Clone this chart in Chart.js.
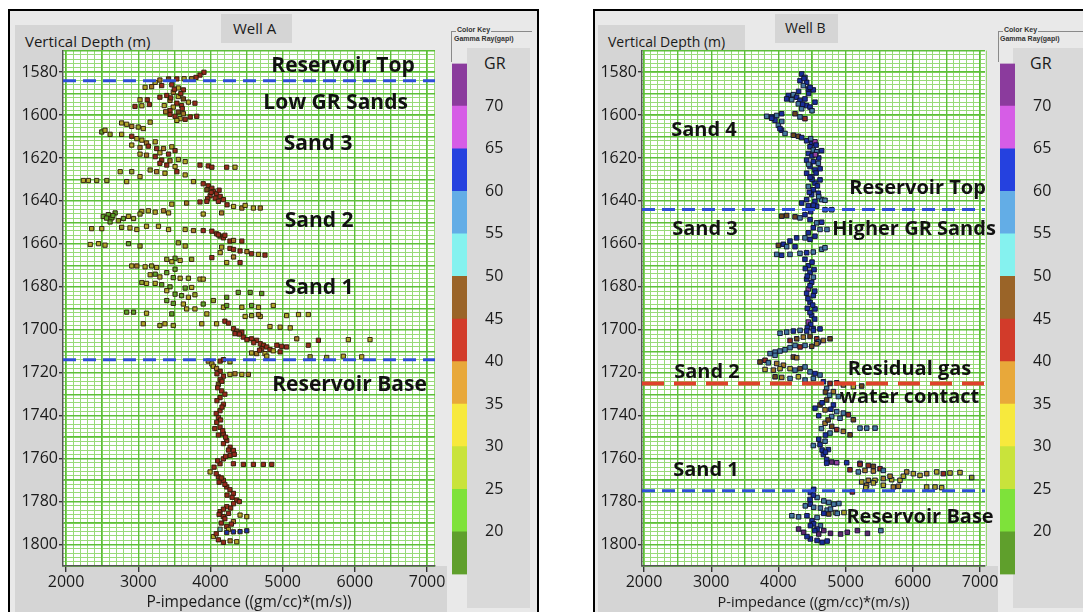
<!DOCTYPE html>
<html>
<head>
<meta charset="utf-8">
<script src="https://cdn.jsdelivr.net/npm/chart.js@4.4.0/dist/chart.umd.min.js"></script>
<style>
  body { margin: 0; width: 1083px; height: 612px; background: #fff; position: relative; overflow: hidden; font-family: 'Open Sans', sans-serif; color: #1a1a1a; }
  .abs { position: absolute; }
  .frame { border: 2px solid #000; border-bottom: none; background: #e9e9e9; box-sizing: border-box; }
  .gray { background: #d5d5d5; }
  .txt { white-space: nowrap; }
  .keybox { border-top: 1px solid #8a8a8a; border-left: 1px solid #8a8a8a; }
  .keytitle { font: bold 7px 'Liberation Sans', sans-serif; color: #333; background: #e9e9e9; padding: 0 1px; }
</style>
</head>
<body>
  <!-- Well A panel -->
  <div class="abs frame" style="left:8px;top:9px;width:531px;height:610px;"></div>
  <div class="abs gray" style="left:15px;top:25px;width:158px;height:30px;"></div>
  <div class="abs gray" style="left:15px;top:46px;width:48px;height:566px;"></div>
  <div class="abs gray" style="left:15px;top:566px;width:432px;height:46px;"></div>
  <div class="abs gray" style="left:221px;top:14px;width:71px;height:29px;"></div>
  <div class="abs" style="left:467px;top:48px;width:63px;height:560px;background:#d9d9d9;"></div>
  <div class="abs txt" style="left:25px;top:31px;font-size:15px;">Vertical Depth (m)</div>
  <div class="abs txt" style="left:233px;top:18px;font-size:15px;">Well A</div>
  <div class="abs keybox" style="left:451px;top:31px;width:80px;height:30px;"></div>
  <div class="abs txt keytitle" style="left:456px;top:26px;">Color Key</div>
  <div class="abs txt keytitle" style="left:453px;top:35px;">Gamma Ray(gapi)</div>
  <div class="abs txt" style="left:484px;top:52px;font-size:16px;">GR</div>

  <!-- Well B panel -->
  <div class="abs frame" style="left:593px;top:9px;width:520px;height:610px;"></div>
  <div class="abs gray" style="left:598px;top:25px;width:147px;height:30px;"></div>
  <div class="abs gray" style="left:598px;top:46px;width:44px;height:566px;"></div>
  <div class="abs gray" style="left:598px;top:566px;width:400px;height:46px;"></div>
  <div class="abs gray" style="left:775px;top:14px;width:63px;height:29px;"></div>
  <div class="abs" style="left:1013px;top:48px;width:70px;height:560px;background:#d9d9d9;"></div>
  <div class="abs txt" style="left:608px;top:32px;font-size:14px;">Vertical Depth (m)</div>
  <div class="abs txt" style="left:785px;top:18px;font-size:14px;">Well B</div>
  <div class="abs keybox" style="left:998px;top:31px;width:90px;height:30px;"></div>
  <div class="abs txt keytitle" style="left:1003px;top:26px;">Color Key</div>
  <div class="abs txt keytitle" style="left:999px;top:35px;">Gamma Ray(gapi)</div>
  <div class="abs txt" style="left:1030px;top:52px;font-size:16px;">GR</div>

  <div class="abs" style="left:15px;top:40px;width:440px;height:572px;"><canvas id="wellA" width="440" height="572"></canvas></div>
  <div class="abs" style="left:594px;top:40px;width:411px;height:572px;"><canvas id="wellB" width="411" height="572"></canvas></div>
  <div class="abs" style="left:452px;top:44px;width:60px;height:550px;"><canvas id="keyA" width="60" height="550"></canvas></div>
  <div class="abs" style="left:1000px;top:44px;width:60px;height:550px;"><canvas id="keyB" width="60" height="550"></canvas></div>

<script>
// Gamma ray colour key (gapi): lower edge of each band and its colour
const grEdges = [15, 20, 25, 30, 35, 40, 45, 50, 55, 60, 65, 70];
const grColors = ['#5f9f2c', '#7ee23a', '#c9e33b', '#f7e93d', '#e8a83a', '#d23b2a',
                  '#9a6428', '#85f2ef', '#63ade6', '#2541df', '#d65de6', '#8b3b9d'];
const grLabels = [20, 25, 30, 35, 40, 45, 50, 55, 60, 65, 70];

// Axis labels
const impLabels = [2000, 3000, 4000, 5000, 6000, 7000];
const depthLabels = [1580, 1600, 1620, 1640, 1660, 1680, 1700, 1720, 1740, 1760, 1780, 1800];

// Horizons (depth, m)
const wellAHorizons = [1584, 1714];
const wellBHorizons = [1644, 1775];
const wellBContact = [1725];

// Well A samples: [P-impedance, depth, GR]
const aTop = [
  [3910,1580.1,43],[3855,1581.4,42],[3800,1582.5,44],[3300,1583.7,36],[3420,1583.2,45],[3535,1583.2,42],
  [3635,1583.1,32],[3740,1583.1,38],[3235,1584.8,33],[3095,1587.1,32],[3185,1586.8,36],[3325,1586.3,43],
  [3465,1585.9,41],[3555,1587.4,34],[3625,1588.3,44],[3485,1589.4,37],[3395,1590.9,42],[3555,1591.4,33],
  [3625,1592.5,46],[3440,1593.2,35],[3535,1594.5,42],[3600,1595.6,44],[3485,1596.3,33],[3440,1597.9,43],
  [3555,1598.6,45],[3625,1599.4,36],[3510,1600.6,42],[3580,1601.7,34],[3720,1600.9,43],[3810,1600.6,44],
  [3785,1594.5,41],[3695,1594.0,33],[3025,1592.9,30],[3125,1592.9,42],[2955,1596.0,43],[3050,1595.7,32],
  [3155,1595.1,44],[3535,1602.5,33],[3440,1599.7,41],[3360,1595.6,34],[3300,1591.7,42],[3500,1588,43],
  [3590,1590,41],[3450,1592,44],[3610,1597,42],[3380,1598.5,35],[3650,1602,43]
];
const aSand3 = [
  [2770,1603.7,33],[2840,1604.3,30],[2910,1605.3,36],[3000,1605.6,28],[3070,1606.3,33],[3165,1603.3,32],
  [2495,1607.9,22],[2540,1607.1,30],[2610,1609.0,27],[2770,1609.0,33],[2910,1609.9,42],[2980,1611.0,34],
  [3050,1611.7,30],[3115,1613.0,36],[3235,1612.5,33],[2910,1614.0,31],[3025,1615.1,37],[3140,1614.5,43],
  [3255,1615.6,42],[3350,1615.6,36],[3465,1614.8,32],[3510,1616.6,44],[3300,1617.6,33],[3420,1618.2,43],
  [3025,1618.2,30],[3115,1618.7,35],[3235,1619.4,42],[3325,1621.0,44],[3440,1621.3,36],[3555,1620.7,33],
  [3300,1622.5,43],[3395,1623.3,42],[3510,1624.0,33],[3650,1621.7,31],[3165,1625.6,28],[3255,1626.4,35],
  [3370,1627.1,33],[3535,1626.4,42],[3650,1627.9,34],[3765,1631.0,32],[2910,1626.4,27],[2750,1626.4,30],
  [2565,1630.5,29],[2425,1630.5,28],[2310,1630.5,30],[2240,1630.5,31],[2840,1631.0,33],[3025,1628.7,32],
  [3855,1623.3,44],[3970,1623.7,43],[4020,1624.3,41],[4225,1624.3,42],[4340,1624.3,34]
];
const aSand2 = [
  [3900,1632.0,43],[3970,1633.0,44],[4020,1634.1,42],[3950,1634.8,45],[4040,1635.6,43],[4085,1636.7,42],
  [3995,1637.6,44],[4135,1637.9,41],[4065,1638.7,43],[4180,1639.4,42],[4110,1640.2,44],[4010,1636,43],
  [3960,1639,42],[4120,1635,44],[3465,1641.5,33],[3670,1641.0,36],[3855,1640.5,44],[3950,1640.2,42],
  [4230,1641.8,43],[4320,1642.6,32],[4435,1643.3,38],[4480,1642.1,34],[4595,1643.3,33],[4690,1643.3,36],
  [3900,1646.1,33],[4155,1645.6,35],[2515,1647.2,21],[2585,1646.4,22],[2635,1647.9,20],[2680,1645.6,24],
  [2610,1649.8,21],[2725,1649.2,26],[2795,1648.2,23],[2865,1647.2,30],[2935,1648.2,28],[3050,1644.9,33],
  [3140,1644.6,30],[3235,1645.2,32],[3350,1644.6,35],[3420,1645.6,31],[3025,1646.1,29],[2560,1648,22],
  [2650,1646.8,21],[2355,1652.9,30],[2495,1652.9,31],[2770,1652.3,28],[2885,1652.6,32],[2980,1653.3,30],
  [3115,1651.8,33],[3280,1651.8,30],[3420,1653.3,34],[3650,1653.3,31],[3765,1653.8,36],[3900,1653.8,43],
  [4020,1654.1,44],[4085,1655.3,42],[4135,1656.4,45],[4180,1657.2,43],[4270,1658.7,42],[4320,1658.4,36],
  [4435,1658.7,44],[4110,1655.8,43],[4200,1656,44],[2335,1660.3,33],[2450,1659.9,30],[2540,1660.6,31],
  [2865,1659.9,24],[3025,1661.0,29],[3555,1659.5,27],[3650,1661.0,30],[4155,1661.5,33],[4270,1662.1,44],
  [4320,1662.6,43],[4410,1663.3,42],[4505,1663.6,36],[4570,1664.6,42],[4665,1664.9,34],[4755,1665.2,44],
  [4135,1664.1,33],[4020,1666.4,43],[4225,1668.7,32],[4410,1668.7,42],[4320,1666.1,35]
];
const aSand1 = [
  [3395,1667.2,26],[3510,1666.7,22],[3465,1668.3,32],[3580,1667.7,30],[3740,1667.2,28],[2910,1670.3,33],
  [2980,1670.3,36],[3095,1670.7,33],[3185,1670.3,27],[3255,1671.0,30],[3165,1674.4,32],[3235,1674.1,23],
  [3300,1675.4,30],[3395,1673.4,22],[3510,1671.8,21],[3485,1675.7,22],[3580,1676.0,30],[3695,1676.0,29],
  [3855,1676.4,33],[3900,1676.4,34],[3050,1678.0,27],[3115,1678.4,33],[3235,1678.4,31],[3325,1679.0,24],
  [3440,1680.0,22],[3650,1680.6,24],[3740,1680.3,32],[3395,1681.8,30],[3510,1683.4,23],[3600,1684.1,22],
  [3695,1684.9,30],[3785,1683.7,27],[3395,1686.4,24],[3485,1687.7,22],[3625,1688.0,30],[3900,1688.0,23],
  [4040,1686.4,28],[4225,1684.9,24],[4385,1682.6,23],[4550,1682.6,22],[4710,1683.1,21],[3670,1690.3,33],
  [3785,1690.3,31],[2840,1691.8,22],[2935,1691.8,24],[3115,1692.3,30],[3465,1692.6,23],[3950,1692.6,30],
  [3070,1697.2,31],[3300,1698.0,28],[3370,1697.2,32],[3485,1698.0,27],[3880,1697.2,34],[4085,1697.2,31],
  [4180,1689.5,32],[4225,1688.7,22],[4435,1689.5,30],[4570,1688.7,23],[4665,1689.5,31],[4870,1688.7,33],
  [4480,1693.8,30],[4570,1693.4,29],[4690,1693.8,34],[4665,1692.9,36],[5055,1693.4,30],[5220,1692.9,34],
  [5355,1692.9,32],[4825,1698.5,31],[4965,1698.8,33],[5105,1699.1,30]
];
const aBase = [
  [4200,1696.0,44],[4250,1696.9,43],[4320,1699.5,42],[4365,1700.6,45],[4340,1701.8,43],[4435,1701.1,42],
  [4455,1703.4,44],[4505,1704.6,41],[4570,1704.2,43],[4640,1704.9,42],[4690,1706.5,44],[4735,1707.2,43],
  [4780,1708.0,41],[4710,1708.8,42],[4825,1709.2,44],[4870,1709.8,34],[4570,1710.8,33],[4640,1711.1,36],
  [4755,1711.1,32],[4920,1707.2,43],[4985,1707.7,42],[5055,1708.0,44],[5195,1704.2,36],[5355,1707.2,42],
  [5495,1704.9,43],[5910,1704.6,33],[6210,1704.6,34],[5380,1712.6,28],[5610,1712.9,27],[5840,1712.3,31],
  [6095,1712.6,30],[4780,1712.3,33],[4965,1710.3,42],[4400,1702,43],[4600,1706,42],[4680,1709.5,43]
];
const aBelow = [
  [3970,1714.6,36],[4020,1715.9,33],[4040,1717.0,34],[4085,1718.0,37],[4135,1714.6,42],[4180,1713.9,43],
  [4270,1714.9,33],[4270,1720.8,34],[4340,1720.5,36],[4435,1720.8,33],[4525,1720.8,35],[4135,1719.3,43],
  [4180,1721.6,44],[4135,1723.1,42],[4110,1725.4,45],[4155,1728.5,43],[4133,1731.6,42],[4180,1734.7,44],
  [4133,1737.7,43],[4110,1740.8,42],[4087,1743.1,44],[4133,1745.4,43],[4179,1748.5,42],[4226,1751.6,44],
  [4272,1754.7,43],[4318,1756.2,42],[4272,1758.5,44],[4179,1760.1,43],[4133,1762.4,42],[3995,1766.2,33],
  [4110,1768.5,44],[4179,1770.1,43],[4226,1773.2,42],[4318,1776.2,44],[4364,1779.3,43],[4226,1782.4,42],
  [4133,1784.7,44],[4179,1787.0,43],[4318,1789.3,36],[4226,1791.6,42],[4041,1796.3,33],[4110,1797.8,43],
  [4272,1798.3,36],[4364,1798.7,34],[4090,1720.5,42],[4160,1724,43],[4100,1727,44],[4200,1730,42],
  [4090,1733,43],[4160,1736,42],[4080,1739,44],[4140,1742,43],[4060,1746,42],[4170,1747,44],
  [4110,1749,43],[4210,1750,42],[4180,1753,43],[4250,1756,44],[4330,1758,42],[4210,1759,43],
  [4100,1761,44],[4050,1764,42],[4080,1767,43],[4150,1769,44],[4120,1771,42],[4200,1772,43],
  [4270,1774.5,42],[4230,1777,44],[4300,1778,43],[4400,1780,42],[4320,1781,44],[4280,1783,43],
  [4180,1783.5,42],[4250,1785.5,43],[4120,1786,44],[4200,1788,42],[4290,1790.5,43],[4150,1790,44],
  [4250,1793,33],[4080,1795,42],[4180,1799,43],[4318,1762.4,43],[4456,1762.7,42],[4595,1762.7,44],
  [4733,1762.7,43],[4849,1762.7,42],[4410,1786.3,34],[4503,1787.0,33],[4226,1794.4,62],[4318,1794.1,63],
  [4410,1794.0,62],[4503,1793.6,64],[4133,1792.9,53]
];

// Well B samples: [P-impedance, depth, GR]
const bSand4 = [
  [4346,1580.9,62],[4395,1582.5,57],[4321,1584.0,63],[4420,1584.8,61],[4371,1586.3,58],[4445,1587.9,63],
  [4519,1588.3,62],[4470,1587.1,64],[4147,1590.9,62],[4222,1590.5,57],[4271,1591.7,63],[4197,1592.9,58],
  [4321,1593.2,62],[4395,1592.5,63],[4296,1594.8,56],[4420,1595.6,62],[4346,1597.1,58],[4470,1596.3,63],
  [4544,1594.0,62],[4247,1599.4,47],[4395,1601.7,43],[4321,1600.9,57],[4123,1592.5,61],[4380,1583,62],
  [4300,1589,61],[4450,1590,62],[4360,1595,63],[4500,1598,57],[3825,1600.6,57],[3899,1600.9,61],
  [3974,1600.2,56],[4048,1599.4,62],[3949,1602.5,60],[3999,1604.8,58],[4048,1607.1,62],[4098,1608.6,57],
  [4023,1606.3,63],[3900,1601.5,62],[4050,1603,57]
];
const bUpper = [
  [4222,1609.4,47],[4296,1609.9,45],[4346,1610.5,62],[4420,1612.0,63],[4495,1613.3,62],[4544,1612.5,66],
  [4470,1614.8,63],[4519,1616.3,57],[4445,1617.9,62],[4569,1617.1,58],[4643,1616.6,63],[4420,1621.0,62],
  [4519,1621.7,63],[4594,1622.5,57],[4470,1624.0,62],[4544,1625.6,63],[4420,1627.1,62],[4495,1628.7,58],
  [4619,1630.2,63],[4544,1631.7,62],[4445,1633.3,57],[4519,1634.8,62],[4594,1636.4,63],[4495,1637.1,62],
  [4420,1639.4,61],[4544,1640.2,62],[4643,1639.4,57],[4693,1639.7,56],[4346,1641.0,62],[4445,1642.2,63],
  [4569,1642.5,62],[4693,1644.1,57],[4792,1644.1,56],[4480,1611,57],[4560,1614,62],[4500,1619,63],
  [4600,1620,62],[4450,1623,58],[4560,1627,62],[4500,1630,63],[4580,1633,62],[4460,1636,63],
  [4600,1638,57],[4520,1642,62],[4480,1645,63],[4550,1618.5,67],[4620,1625,62],[4470,1629,62]
];
const bSand3 = [
  [4048,1647.1,46],[4123,1646.8,45],[4247,1647.4,47],[4321,1647.9,56],[4395,1646.4,62],[4470,1648.7,62],
  [4569,1650.2,57],[4643,1649.9,63],[4519,1652.5,62],[4619,1653.3,57],[4445,1654.8,62],[4544,1656.4,63],
  [4470,1657.9,62],[4395,1657.2,58],[4271,1657.2,62],[4172,1658.7,63],[4073,1660.2,62],[3999,1660.7,47],
  [4123,1661.3,57],[4247,1661.3,62],[3974,1664.9,57],[4048,1665.3,62],[4172,1664.9,57],[4321,1664.4,58],
  [4420,1664.1,62],[4519,1663.8,57],[4643,1662.5,56],[4693,1661.8,57],[4723,1653.3,57],[4395,1667.2,62],
  [4445,1670.2,63],[4470,1673.3,62],[4420,1676.4,63],[4495,1677.9,62],[4445,1681.0,66],[4519,1684.1,62],
  [4470,1687.2,63],[4544,1690.3,62],[4495,1693.3,63],[4445,1696.4,68],[4519,1699.5,62],[4500,1668.5,62],
  [4400,1671.5,63],[4530,1672,62],[4430,1675,62],[4520,1675.5,58],[4470,1679.5,63],[4420,1683,62],
  [4540,1682,63],[4440,1685.5,62],[4510,1688.5,63],[4430,1690,62],[4470,1692,63],[4540,1695,62],
  [4480,1697.5,63],[4430,1699,62]
];
const bSand2 = [
  [4024,1701.6,58],[4123,1701.1,57],[4222,1700.6,62],[4322,1700.3,57],[4421,1700.6,63],[4520,1700.3,62],
  [4619,1699.6,62],[4173,1705.0,44],[4272,1704.2,47],[4371,1703.4,38],[4470,1703.1,45],[4570,1704.2,42],
  [4669,1705.0,38],[4768,1704.2,46],[4594,1705.7,57],[3875,1711.1,57],[3950,1710.4,56],[4024,1709.9,57],
  [4098,1709.3,58],[4173,1708.3,56],[4247,1707.3,57],[4322,1708.0,44],[4396,1707.3,57],[4495,1707.7,46],
  [4570,1706.5,38],[4222,1712.7,45],[4272,1713.0,36],[3950,1711.9,56],[3801,1714.2,44],[3726,1715.0,47],
  [3850,1715.4,57],[3974,1715.7,38],[4074,1716.5,36],[4173,1718.1,34],[4247,1718.8,57],[4322,1718.1,46],
  [4396,1717.3,56],[4470,1719.6,57],[4545,1720.4,62],[4619,1721.1,57],[4024,1718.1,33],[3925,1718.8,37],
  [3801,1718.5,32],[3950,1721.9,45],[4049,1722.2,38],[4173,1722.7,57],[4297,1721.9,34],[4396,1723.4,57],
  [4520,1722.7,56]
];
const bContact = [
  [4669,1724.2,62],[4768,1725.0,43],[4867,1724.7,44],[4966,1725.7,38],[5115,1726.5,33],[5239,1726.2,46],
  [4718,1727.3,57],[4818,1728.8,38],[4892,1731.1,56],[4718,1732.7,46],[4818,1735.0,62],[4619,1735.0,47],
  [4545,1736.5,62],[4694,1737.3,38],[4867,1738.1,57],[4966,1738.8,56],[5041,1739.6,44],[5115,1741.9,46],
  [4793,1740.4,57],[4917,1741.2,58],[4694,1743.5,38],[4793,1745.0,46],[4867,1746.5,44],[4966,1747.3,37],
  [5066,1748.9,46],[4768,1748.1,57],[5214,1745.8,56],[5314,1745.8,57],[5438,1745.8,56],[4619,1753.5,62],
  [4694,1751.9,57],[4520,1753.9,56],[4743,1755.8,62],[4669,1758.1,63],[4718,1760.4,64],[4793,1761.6,70],
  [4867,1761.9,68],[5016,1761.9,62],[5214,1762.2,56],[4700,1729,46],[4760,1730.5,57],[4650,1734,63],
  [4780,1737,62],[4600,1740,62],[4740,1742,47],[4640,1746,57],[4700,1749,62],[4600,1751,63],
  [4650,1756,62],[4700,1757,64]
];
const bSand1 = [
  [4718,1762.1,62],[5065,1765.2,42],[5214,1762.7,44],[5338,1763.2,42],[5413,1763.6,46],[5512,1764.7,43],
  [5189,1766.2,56],[5288,1765.5,36],[5413,1765.8,38],[5561,1765.5,57],[5239,1770.9,33],[5338,1770.1,38],
  [5437,1770.1,32],[5561,1769.3,36],[5685,1769.8,33],[5809,1770.1,31],[5909,1766.2,36],[6008,1767.0,32],
  [6107,1767.8,34],[6206,1767.0,36],[6355,1766.2,33],[6454,1767.0,42],[6553,1766.7,30],[6702,1766.5,33],
  [6876,1768.8,28],[5313,1772.4,37],[5413,1771.3,34],[5561,1772.4,33],[5710,1773.2,36],[5785,1772.9,38],
  [6206,1773.2,33],[6330,1773.2,31],[6429,1773.5,33],[5859,1768.2,34],[5661,1768.2,37],[5100,1775.5,42],
  [5300,1773.5,33]
];
const bBase = [
  [4475,1775.8,62],[4525,1774.3,63],[4575,1778.1,57],[4675,1779.7,56],[4750,1780.4,57],[4825,1781.2,58],
  [4900,1780.9,56],[4475,1781.2,62],[4400,1782.0,57],[4525,1782.7,58],[4625,1783.0,57],[4725,1784.0,56],
  [4850,1785.1,33],[4775,1783.5,57],[4675,1785.5,62],[4750,1785.8,46],[4875,1785.5,57],[4975,1785.1,32],
  [4200,1786.6,57],[4300,1787.1,56],[4425,1786.6,62],[4575,1787.4,57],[4500,1788.9,63],[4525,1790.4,62],
  [4625,1791.2,57],[4475,1791.2,63],[4575,1792.8,62],[4300,1792.8,72],[4375,1794.3,71],[4675,1793.5,72],
  [4775,1794.8,71],[4925,1795.1,72],[5025,1794.3,72],[5175,1793.5,73],[5325,1794.8,71],[5525,1793.5,57],
  [4475,1797.4,63],[4575,1798.1,62],[4725,1798.4,62],[4425,1796.3,63],[4600,1795.1,71],[4520,1777,62],
  [4470,1779,63],[4540,1793.5,63],[4650,1799,63]
];

const wellA = [].concat(aTop, aSand3, aSand2, aSand1, aBase, aBelow);
const wellB = [].concat(bSand4, bUpper, bSand3, bSand2, bContact, bSand1, bBase);

// Text labels placed in data units
const notesA = [
  { text: 'Reservoir Top', imp: 5836, depth: 1577.2 },
  { text: 'Low GR Sands', imp: 5733, depth: 1594.3 },
  { text: 'Sand 3', imp: 5490, depth: 1613.7 },
  { text: 'Sand 2', imp: 5504, depth: 1649.3 },
  { text: 'Sand 1', imp: 5504, depth: 1680.7 },
  { text: 'Reservoir Base', imp: 5926, depth: 1725.6 }
];
const notesB = [
  { text: 'Sand 4', imp: 2893, depth: 1607.3 },
  { text: 'Reservoir Top', imp: 6070, depth: 1634.1 },
  { text: 'Sand 3', imp: 2908, depth: 1653 },
  { text: 'Higher GR Sands', imp: 6018, depth: 1653 },
  { text: 'Sand 2', imp: 2937, depth: 1719.6 },
  { text: 'Residual gas', imp: 5951, depth: 1718.2 },
  { text: 'water contact', imp: 5951, depth: 1731.6 },
  { text: 'Sand 1', imp: 2922, depth: 1765.3 },
  { text: 'Reservoir Base', imp: 6107, depth: 1787.5 }
];

function grColor(gr) {
  let i = grEdges.length - 1;
  while (i > 0 && gr < grEdges[i]) i--;
  return grColors[i];
}

// markers are printed darker than the key swatches
function shade(hex, k) {
  const n = parseInt(hex.slice(1), 16);
  const r = Math.round(((n >> 16) & 255) * k);
  const g = Math.round(((n >> 8) & 255) * k);
  const b = Math.round((n & 255) * k);
  return `rgb(${r},${g},${b})`;
}

function steps(from, to, step) {
  const out = [];
  for (let v = from; v <= to + 1e-6; v += step) out.push({ value: Math.round(v * 10) / 10 });
  return out;
}

const plotBg = {
  id: 'plotBg',
  beforeDraw(chart) {
    const { ctx, chartArea: a } = chart;
    ctx.save();
    ctx.fillStyle = '#ffffff';
    ctx.fillRect(a.left, a.top, a.right - a.left, a.bottom - a.top);
    ctx.restore();
  }
};

const notesPlugin = {
  id: 'notes',
  afterDatasetsDraw(chart, args, opts) {
    const { ctx, scales } = chart;
    ctx.save();
    ctx.font = `bold ${opts.size}px 'Open Sans', sans-serif`;
    ctx.fillStyle = '#111';
    ctx.textAlign = 'center';
    ctx.textBaseline = 'middle';
    opts.items.forEach(n => {
      ctx.fillText(n.text, scales.x.getPixelForValue(n.imp), scales.y.getPixelForValue(n.depth));
    });
    ctx.restore();
  }
};

const tickFont = { family: 'Open Sans', size: 16 };

function horizonLine(depth, xMin, xMax, color, width, dash) {
  return {
    type: 'line',
    data: [{ x: xMin, y: depth }, { x: xMax, y: depth }],
    borderColor: color, borderWidth: width, borderDash: dash,
    pointRadius: 0, order: 0, clip: 0
  };
}

function buildWell(id, pts, xMin, xMax, lines, notes, noteSize, titleSize, edge, dark, size) {
  return new Chart(document.getElementById(id), {
    type: 'scatter',
    data: {
      datasets: [{
        data: pts.map(p => ({ x: p[0], y: p[1] })),
        backgroundColor: pts.map(p => shade(grColor(p[2]), dark)),
        borderColor: edge,
        borderWidth: 1,
        pointStyle: 'rect',
        pointRadius: size,
        order: 1
      }].concat(lines)
    },
    options: {
      responsive: false,
      animation: false,
      layout: { padding: { top: 6, right: 20, left: 0, bottom: 0 } },
      plugins: { legend: { display: false }, tooltip: { enabled: false }, notes: { items: notes, size: noteSize } },
      scales: {
        xMinor: {
          type: 'linear', position: 'bottom', min: xMin, max: xMax,
          afterBuildTicks: s => { s.ticks = steps(2000, 7100, 100); },
          ticks: { display: false },
          grid: { color: '#98da78', lineWidth: 1, drawTicks: false, z: -2 },
          border: { display: false },
          afterFit: s => { s.height = 0; }
        },
        x: {
          type: 'linear', position: 'bottom', min: xMin, max: xMax,
          afterBuildTicks: s => { s.ticks = steps(2000, 7000, 500); },
          ticks: {
            autoSkip: false, maxRotation: 0, padding: 1, font: tickFont, color: '#1a1a1a',
            callback: v => impLabels.includes(v) ? String(v) : ''
          },
          grid: {
            color: '#5dbf38', lineWidth: 1.4, tickLength: 6, z: -1,
            tickColor: c => c.tick && impLabels.includes(c.tick.value) ? '#333' : 'rgba(0,0,0,0)'
          },
          border: { display: true, color: '#555', width: 1.5 },
          title: { display: true, text: 'P-impedance ((gm/cc)*(m/s))', color: '#1a1a1a',
                   font: { family: 'Open Sans', size: titleSize }, padding: { top: 3, bottom: 0 } },
          afterFit: s => { s.height = 46; s.paddingLeft = 0; s.paddingRight = 0; }
        },
        yMinor: {
          type: 'linear', position: 'left', reverse: true, min: 1570, max: 1810,
          afterBuildTicks: s => { s.ticks = steps(1570, 1810, 2); },
          ticks: { display: false },
          grid: { color: '#98da78', lineWidth: 1, drawTicks: false, z: -2 },
          border: { display: false },
          afterFit: s => { s.width = 0; }
        },
        y: {
          type: 'linear', position: 'left', reverse: true, min: 1570, max: 1810,
          afterBuildTicks: s => { s.ticks = steps(1570, 1810, 10); },
          ticks: {
            autoSkip: false, padding: 1, font: tickFont, color: '#1a1a1a',
            callback: v => depthLabels.includes(v) ? String(v) : ''
          },
          grid: {
            color: '#5dbf38', lineWidth: 1.4, tickLength: 4, z: -1,
            tickColor: c => c.tick && depthLabels.includes(c.tick.value) ? '#333' : 'rgba(0,0,0,0)'
          },
          border: { display: true, color: '#555', width: 1.5 },
          afterFit: s => { s.width = 48; }
        }
      }
    },
    plugins: [plotBg, notesPlugin]
  });
}

function buildKey(id) {
  return new Chart(document.getElementById(id), {
    type: 'bar',
    data: {
      labels: ['GR'],
      datasets: grEdges.map((lo, i) => ({
        data: [[lo, lo + 5]],
        backgroundColor: grColors[i],
        borderWidth: 0,
        grouped: false,
        barPercentage: 1,
        categoryPercentage: 1
      }))
    },
    options: {
      responsive: false,
      animation: false,
      layout: { padding: { top: 4, bottom: 5, left: 0, right: 0 } },
      plugins: { legend: { display: false }, tooltip: { enabled: false } },
      scales: {
        x: { display: false },
        y: {
          position: 'right', min: 15, max: 75,
          afterBuildTicks: s => { s.ticks = grLabels.map(v => ({ value: v })); },
          ticks: { padding: 10, font: tickFont, color: '#1a1a1a', autoSkip: false },
          grid: { display: false },
          border: { display: false },
          afterFit: s => { s.width = 45; }
        }
      }
    }
  });
}

buildWell('wellA', wellA, 1958, 7110,
  wellAHorizons.map(d => horizonLine(d, 1958, 7110, '#2d4fd8', 3, [13, 7])),
  notesA, 21, 15.5, 'rgba(45,30,10,0.95)', 0.72, 3.0);

buildWell('wellB', wellB, 1970, 7074,
  wellBHorizons.map(d => horizonLine(d, 1970, 7074, '#2d4fd8', 3, [13, 7]))
    .concat(wellBContact.map(d => horizonLine(d, 1970, 7074, '#e0402c', 4, [22, 10]))),
  notesB, 20, 14.5, 'rgba(15,18,45,0.95)', 0.7, 3.2);

buildKey('keyA');
buildKey('keyB');
</script>
</body>
</html>
